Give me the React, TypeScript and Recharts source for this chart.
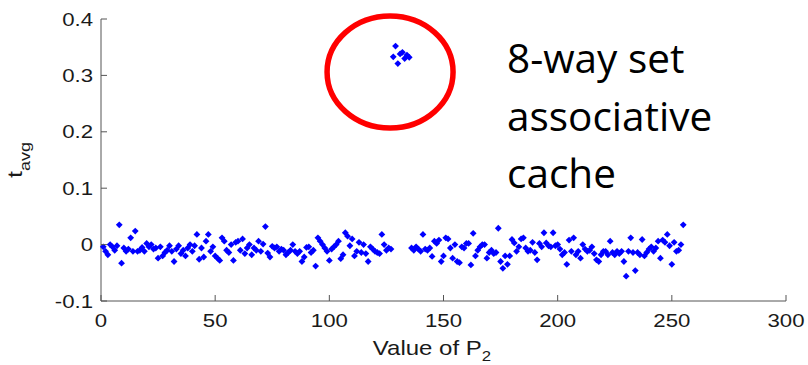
import React from 'react'
import { ScatterChart, Scatter, XAxis, YAxis, ReferenceDot } from 'recharts'

// t_avg for P2 = 1..127
const startA = 1
const tAvgA = [
  -0.004, -0.012, -0.018, 0.000, -0.004, -0.010, -0.002, 0.035, -0.033, -0.006,
  -0.012, -0.008, 0.012, -0.012, 0.024, -0.012, -0.010, -0.005, -0.012, 0.002,
  -0.004, 0.000, -0.008, -0.006, -0.024, -0.004, -0.020, -0.014, -0.010, -0.002,
  -0.012, -0.030, -0.008, -0.002, -0.016, -0.010, -0.020, -0.006, 0.000, -0.012,
  -0.002, 0.018, -0.026, -0.006, -0.022, 0.006, 0.018, -0.012, -0.004, -0.020,
  -0.024, -0.028, 0.012, 0.006, -0.010, -0.014, 0.000, -0.028, 0.004, 0.006,
  -0.010, 0.010, -0.016, -0.006,
  0.000, -0.018, -0.006, -0.010, 0.006, -0.012, 0.001, 0.032, -0.015, -0.022,
  -0.003, -0.006, -0.004, -0.012, -0.008, -0.010, -0.018, -0.014, -0.010, 0.000,
  -0.012, -0.016, -0.012, -0.030, -0.022, -0.005, -0.004, -0.014, -0.010, -0.038,
  0.012, 0.006, 0.000, -0.006, -0.012, -0.028, -0.008, -0.004, 0.000, 0.006,
  -0.025, -0.018, 0.021, 0.015, -0.002, 0.010, -0.020, -0.012, 0.004, -0.014,
  0.000, -0.016, -0.030, -0.004, -0.008, -0.012, -0.014, -0.016, 0.018, 0.000,
  -0.010, -0.006, -0.008,
]

// the circled cluster, P2 = 128..135
const startCluster = 128
const tAvgCluster = [0.333, 0.352, 0.321, 0.338, 0.341, 0.330, 0.336, 0.332]

// t_avg for P2 = 136..255
const startB = 136
const tAvgB = [
  -0.006, -0.010, -0.004, -0.008, -0.012, 0.018, -0.008, -0.010, -0.006, -0.021,
  0.006, 0.002, 0.008, -0.030, -0.020, 0.012, 0.010, -0.006, -0.024, 0.000,
  -0.030, -0.032, -0.004, -0.006, 0.002, 0.002, -0.036, 0.020, -0.020, -0.010,
  -0.004, 0.000, 0.000, -0.024, -0.014, -0.010, -0.016, -0.014, 0.029, -0.030,
  -0.042, -0.020, -0.035, -0.020, 0.009, 0.003, -0.012, -0.004, 0.010, 0.012,
  -0.006, -0.012, -0.010, 0.004, -0.014, -0.027, 0.002,
  -0.004, 0.021, 0.003, -0.002, -0.004, 0.021, -0.002, 0.000, -0.008, -0.018,
  -0.014, -0.035, 0.008, -0.012, 0.012, -0.018, -0.012, -0.024, 0.000, -0.008,
  -0.012, -0.010, -0.004, -0.016, -0.027, -0.030, -0.018, -0.012, -0.012, -0.018,
  0.006, -0.014, -0.018, -0.012, -0.016, -0.012, -0.030, -0.056, -0.012, 0.012,
  -0.014, -0.046, -0.014, -0.018, 0.009, -0.020, -0.014, -0.008, -0.004, -0.012,
  -0.006, 0.006, -0.024, 0.008, 0.004, 0.018, -0.002, -0.035, 0.004, -0.012,
  -0.010, 0.000, 0.035,
]

const xTicks = [0, 50, 100, 150, 200, 250, 300]
const yTicks = [-0.1, 0, 0.1, 0.2, 0.3, 0.4]
const circleCenter = { x: 126.6, y: 0.306 }
const noteLines = ['8-way set', 'associative', 'cache']

const toPoints = (start: number, vals: number[]) => vals.map((y, i) => ({ x: start + i, y }))
const lowPoints = [...toPoints(startA, tAvgA), ...toPoints(startB, tAvgB)]
const clusterPoints = toPoints(startCluster, tAvgCluster)

const axisColor = '#555'
const fontFamily = '"Liberation Sans", Arial, sans-serif'
const labelStyle = { fontFamily, fontSize: 18.5, fill: '#1a1a1a' }

const Diamond = (props: any) => {
  const { cx, cy } = props
  const r = 3.4
  return <path d={`M${cx},${cy - r}L${cx + r},${cy}L${cx},${cy + r}L${cx - r},${cy}Z`} fill="#0000ff" />
}

const BottomTick = ({ x, y, payload }: any) => (
  <g>
    <line x1={x} y1={y} x2={x} y2={y - 6} stroke={axisColor} />
    <text transform={`translate(${x},${y + 26}) scale(1.2,1)`} textAnchor="middle" {...labelStyle}>
      {payload.value}
    </text>
  </g>
)

const TopTick = ({ x, y }: any) => <line x1={x} y1={y} x2={x} y2={y + 6} stroke={axisColor} />

const LeftTick = ({ x, y, payload }: any) => (
  <g>
    <line x1={x} y1={y} x2={x + 6} y2={y} stroke={axisColor} />
    <text transform={`translate(${x - 8},${y + 6.5}) scale(1.2,1)`} textAnchor="end" {...labelStyle}>
      {String(payload.value)}
    </text>
  </g>
)

const RightTick = ({ x, y }: any) => <line x1={x} y1={y} x2={x - 6} y2={y} stroke={axisColor} />

const Ellipse = (props: any) => (
  <ellipse cx={props.cx} cy={props.cy} rx={63} ry={56} fill="none" stroke="#ff0000" strokeWidth={5.5} />
)

export default function App() {
  return (
    <div style={{ position: 'absolute', left: 0, top: 0, width: 808, height: 365, background: '#fff' }}>
      <ScatterChart width={808} height={365} margin={{ top: 19, right: 22, bottom: 0, left: 0 }}>
        <XAxis
          type="number" dataKey="x" domain={[0, 300]} ticks={xTicks} interval={0}
          height={64} tickSize={0} tickMargin={0} tickLine={false}
          axisLine={{ stroke: axisColor }} tick={<BottomTick />}
        />
        <XAxis
          xAxisId="top" orientation="top" type="number" dataKey="x" domain={[0, 300]}
          ticks={xTicks} interval={0} height={0} tickSize={0} tickMargin={0} tickLine={false}
          axisLine={{ stroke: axisColor }} tick={<TopTick />}
        />
        <YAxis
          type="number" dataKey="y" domain={[-0.1, 0.4]} ticks={yTicks} interval={0}
          width={101} tickSize={0} tickMargin={0} tickLine={false}
          axisLine={{ stroke: axisColor }} tick={<LeftTick />}
        />
        <YAxis
          yAxisId="right" orientation="right" type="number" dataKey="y" domain={[-0.1, 0.4]}
          ticks={yTicks} interval={0} width={0} tickSize={0} tickMargin={0} tickLine={false}
          axisLine={{ stroke: '#888' }} tick={<RightTick />}
        />
        <ReferenceDot x={circleCenter.x} y={circleCenter.y} shape={<Ellipse />} />
        <Scatter data={lowPoints} shape={<Diamond />} isAnimationActive={false} />
        <Scatter data={clusterPoints} shape={<Diamond />} isAnimationActive={false} />
      </ScatterChart>
      <svg width={808} height={365} style={{ position: 'absolute', left: 0, top: 0, pointerEvents: 'none' }}>
        <text transform="translate(22,160) rotate(-90) scale(1.2,1)" textAnchor="middle" fontFamily={fontFamily} fontSize={21} fill="#1a1a1a">
          t<tspan fontSize={15} dy={8}>avg</tspan>
        </text>
        <text transform="translate(432,355) scale(1.2,1)" textAnchor="middle" fontFamily={fontFamily} fontSize={20} fill="#1a1a1a">
          Value of P<tspan fontSize={14} dy={6}>2</tspan>
        </text>
        {noteLines.map((line, i) => (
          <text key={line} x={507} y={73 + i * 57.5} fontFamily='"Open Sans", sans-serif' fontSize={40.5} fill="#000">
            {line}
          </text>
        ))}
      </svg>
    </div>
  )
}
